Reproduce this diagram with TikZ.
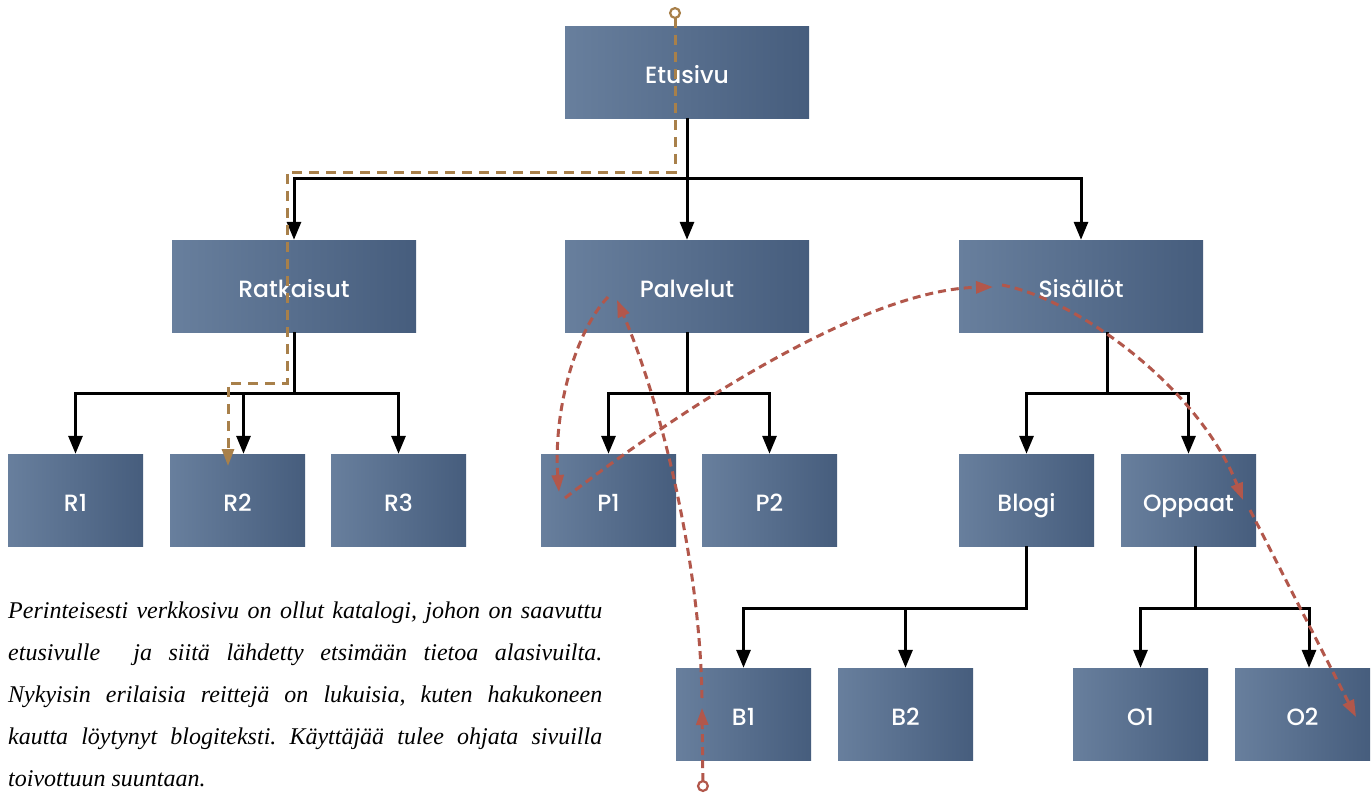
\documentclass[tikz,border=0pt]{standalone}
\usepackage{fontspec}
\newfontfamily\boxfont{Poppins}[UprightFont=* Medium]
\newfontfamily\notefont{Liberation Serif}
\usetikzlibrary{arrows.meta,calc}
\definecolor{boxL}{HTML}{687F9D}
\definecolor{boxR}{HTML}{465D7D}
\definecolor{pathgold}{HTML}{A8804A}
\definecolor{pathred}{HTML}{B2574B}
\begin{document}
\begin{tikzpicture}[x=1pt,y=-1pt,
  page/.style={minimum height=92pt, inner sep=0pt, left color=boxL, right color=boxR,
    text=white, text height=22.5pt, text depth=0pt, font=\boxfont\fontsize{23.5}{27}\selectfont},
  widebox/.style={page, minimum width=244pt},
  smallbox/.style={page, minimum width=135pt},
  tree/.style={line width=3pt, -{Triangle[length=18pt,width=14pt]}},
  goldroute/.style={pathgold, line width=3pt, dash pattern=on 10pt off 7pt,
    {Circle[open,length=12pt,width=12pt,line width=2.2pt]}-{Triangle[length=17pt,width=12pt]}},
  redroute/.style={pathred, line width=3pt, dash pattern=on 8pt off 5pt,
    -{Triangle[length=17pt,width=12pt]}},
  redstart/.style={redroute, {Circle[open,length=12pt,width=12pt,line width=2.2pt]}-{Triangle[length=17pt,width=12pt]}},
  note/.style={anchor=north west, text width=594pt, align=justify, inner sep=0pt,
    font=\notefont\itshape\fontsize{24}{42}\selectfont\frenchspacing}]

% canvas
\fill[white] (0,0) rectangle (1372,793);
\useasboundingbox (0,0) rectangle (1372,793);

% pages
\node[widebox] (etusivu)   at (687,72)  {Etusivu};
\node[widebox] (ratkaisut) at (294,286) {Ratkaisut};
\node[widebox] (palvelut)  at (687,286) {Palvelut};
\node[widebox] (sisallot)  at (1081,286) {Sisällöt};
\node[smallbox] (r1) at (75.5,500)  {R1};
\node[smallbox] (r2) at (237.5,500) {R2};
\node[smallbox] (r3) at (398.5,500) {R3};
\node[smallbox] (p1) at (608.5,500) {P1};
\node[smallbox] (p2) at (769.5,500) {P2};
\node[smallbox] (blogi)  at (1026.5,500) {Blogi};
\node[smallbox] (oppaat) at (1188.5,500) {Oppaat};
\node[smallbox] (b1) at (743.5,714)  {B1};
\node[smallbox] (b2) at (905.5,714)  {B2};
\node[smallbox] (o1) at (1140.5,714) {O1};
\node[smallbox] (o2) at (1302.5,714) {O2};

% hierarchy
\draw[tree] (etusivu.south) -- ++(0,60) -| (ratkaisut.north);
\draw[tree] (etusivu.south) -- ++(0,60) -| (sisallot.north);
\draw[tree] (etusivu.south) -- (palvelut.north);

\draw[tree] (ratkaisut.south) -- ++(0,61) -| (r1.north);
\draw[tree] (ratkaisut.south) -- ++(0,61) -| ($(r2.north)+(6,0)$);
\draw[tree] (ratkaisut.south) -- ++(0,61) -| (r3.north);

\draw[tree] (palvelut.south) -- ++(0,61) -| (p1.north);
\draw[tree] (palvelut.south) -- ++(0,61) -| (p2.north);

\draw[tree] ($(sisallot.south)+(26,0)$) -- ++(0,61) -| (blogi.north);
\draw[tree] ($(sisallot.south)+(26,0)$) -- ++(0,61) -| (oppaat.north);

\draw[tree] (blogi.south) -- ++(0,62) -| (b1.north);
\draw[tree] (blogi.south) -- ++(0,62) -| (b2.north);

\draw[tree] ($(oppaat.south)+(7,0)$) -- ++(0,62) -| (o1.north);
\draw[tree] ($(oppaat.south)+(7,0)$) -- ++(0,62) -| ($(o2.north)+(6.5,0)$);

% traditional route: front page down to a subpage
\coordinate (goldstart) at (675,7);
\coordinate (goldend) at (228,466);
\draw[goldroute] (goldstart) -- (675,172) -- (287,172) -- (287,383) -- (228,383) -- (goldend);

% search-engine route entering at a blog post
\coordinate (redstart) at (703,792);
\coordinate (b1in) at (702,708);
\coordinate (b1out) at (702,698);
\coordinate (palin) at (617,300);
\coordinate (palout) at (608,297);
\coordinate (p1in) at (559,492);
\coordinate (p1out) at (565,498);
\coordinate (sisin) at (993,287);
\coordinate (sisout) at (1002,285);
\coordinate (oppin) at (1243,500);
\coordinate (oppout) at (1250,510);
\coordinate (o2in) at (1356,717);

\draw[redstart] (redstart) -- (b1in);
\draw[redroute] (b1out) .. controls (700,560) and (660,400) .. (palin);
\draw[redroute] (palout) .. controls (576,330) and (553,410) .. (p1in);
\draw[redroute] (p1out) .. controls (640,440) and (850,290) .. (sisin);
\draw[redroute] (sisout) .. controls (1080,300) and (1200,390) .. (oppin);
\draw[redroute] (oppout) -- (o2in);

% caption
\node[note] (caption) at (8,602) {Perinteisesti verkkosivu on ollut katalogi, johon on saavuttu\linebreak
etusivulle\ \ ja siitä lähdetty etsimään tietoa alasivuilta.\linebreak
Nykyisin erilaisia reittejä on lukuisia, kuten hakukoneen\linebreak
kautta löytynyt blogiteksti. Käyttäjää tulee ohjata sivuilla\linebreak
toivottuun suuntaan.};
\end{tikzpicture}
\end{document}
